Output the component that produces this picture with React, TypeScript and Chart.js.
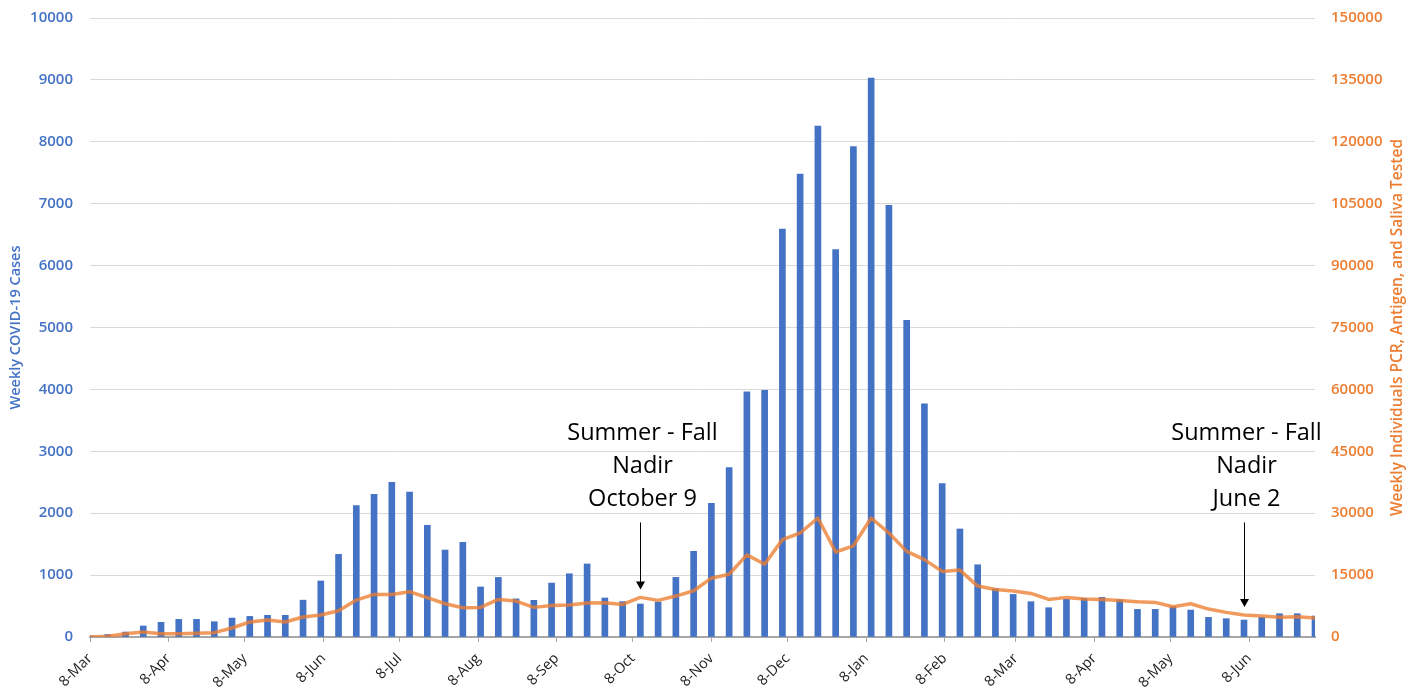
import React, { useEffect, useRef } from "react";
import { Chart, registerables } from "chart.js";

Chart.register(...registerables);

// First week of the series (week 0) and weekly counts
const firstWeek = "2020-03-08";

const weeklyCases = [
  20, 40, 80, 178, 237, 285, 285, 247, 306, 333,
  350, 350, 595, 905, 1335, 2125, 2305, 2500, 2340, 1805,
  1405, 1530, 808, 963, 616, 592, 871, 1022, 1180, 630,
  571, 533, 565, 963, 1384, 2160, 2738, 3960, 3985, 6592,
  7480, 8252, 6257, 7924, 9030, 6973, 5114, 3765, 2480, 1745,
  1167, 780, 688, 570, 473, 608, 624, 640, 602, 446,
  446, 489, 435, 317, 296, 274, 317, 376, 376, 339,
];

const weeklyTested = [
  0, 160, 810, 1210, 810, 810, 890, 1050, 2180, 3630,
  4110, 3630, 4840, 5320, 6370, 8950, 10320, 10320, 10970, 9520,
  8060, 7100, 7170, 9110, 8710, 7180, 7660, 7740, 8230, 8310,
  7900, 9600, 8870, 9920, 11200, 14250, 15200, 19900, 17630, 23600,
  25200, 28830, 20600, 22100, 28830, 25200, 20750, 18750, 15900, 16210,
  12340, 11530, 11130, 10560, 9110, 9600, 9190, 9110, 8870, 8550,
  8390, 7340, 8060, 6770, 5970, 5320, 5080, 4760, 4920, 4600,
];

const tickDates = [
  "2020-03-08", "2020-04-08", "2020-05-08", "2020-06-08", "2020-07-08", "2020-08-08",
  "2020-09-08", "2020-10-08", "2020-11-08", "2020-12-08", "2021-01-08", "2021-02-08",
  "2021-03-08", "2021-04-08", "2021-05-08", "2021-06-08",
];
const tickLabels = [
  "8-Mar", "8-Apr", "8-May", "8-Jun", "8-Jul", "8-Aug", "8-Sep", "8-Oct",
  "8-Nov", "8-Dec", "8-Jan", "8-Feb", "8-Mar", "8-Apr", "8-May", "8-Jun",
];

const annotationWeeks = [31, 65];
const annotationTexts = [
  ["Summer - Fall", "Nadir", "October 9"],
  ["Summer - Fall", "Nadir", "June 2"],
];
const annotationArrowTop = 1850; // left-axis value where arrows begin

const leftTitle = "Weekly COVID-19 Cases";
const rightTitle = "Weekly Individuals PCR, Antigen, and Saliva Tested";

const BLUE = "#4472C4";
const ORANGE = "#ED7D31";
const FONT = "'Open Sans', 'Liberation Sans', sans-serif";

const DAY = 86400000;
const dayOf = (iso: string) => {
  const [y, m, d] = iso.split("-").map(Number);
  const [y0, m0, d0] = firstWeek.split("-").map(Number);
  return Math.round((Date.UTC(y, m - 1, d) - Date.UTC(y0, m0 - 1, d0)) / DAY);
};
const tickDays = tickDates.map(dayOf);
const weekDays = weeklyCases.map((_, i) => i * 7);

const overlayPlugin = {
  id: "overlay",
  afterDraw(chart: any) {
    const { ctx, chartArea, scales } = chart;
    const xs = scales.x;
    const ys = scales.y;
    const y1 = scales.y1;
    const midY = (chartArea.top + chartArea.bottom) / 2;
    ctx.save();
    // axis titles
    ctx.textAlign = "center";
    ctx.textBaseline = "middle";
    ctx.font = `600 14.5px ${FONT}`;
    ctx.fillStyle = BLUE;
    ctx.translate(16, midY);
    ctx.rotate(-Math.PI / 2);
    ctx.fillText(leftTitle, 0, 0);
    ctx.setTransform(1, 0, 0, 1, 0, 0);
    ctx.font = `600 15.5px ${FONT}`;
    ctx.fillStyle = ORANGE;
    ctx.translate(1398, midY);
    ctx.rotate(-Math.PI / 2);
    ctx.fillText(rightTitle, 0, 0);
    ctx.setTransform(1, 0, 0, 1, 0, 0);

    // annotations
    annotationWeeks.forEach((w, i) => {
      const x = Math.round(xs.getPixelForValue(weekDays[w])) + 0.5;
      const lineY = y1.getPixelForValue(weeklyTested[w]);
      const tip = lineY - 8;
      const top = ys.getPixelForValue(annotationArrowTop);
      ctx.strokeStyle = "#000";
      ctx.fillStyle = "#000";
      ctx.lineWidth = 1;
      ctx.beginPath();
      ctx.moveTo(x, top);
      ctx.lineTo(x, tip - 7);
      ctx.stroke();
      ctx.beginPath();
      ctx.moveTo(x - 4.5, tip - 8);
      ctx.lineTo(x + 4.5, tip - 8);
      ctx.lineTo(x, tip);
      ctx.closePath();
      ctx.fill();
      const lines = annotationTexts[i];
      ctx.font = `23.5px ${FONT}`;
      ctx.textAlign = "center";
      ctx.textBaseline = "middle";
      lines.forEach((t, j) => {
        const cy = top - 23 - 33 * (lines.length - 1 - j);
        ctx.fillText(t, x + 2, cy);
      });
    });
    ctx.restore();
  },
};

export default function App() {
  const ref = useRef<HTMLCanvasElement | null>(null);
  useEffect(() => {
    document.body.style.margin = "0";
    document.body.style.overflow = "hidden";
    const canvas = ref.current!;
    const chart = new Chart(canvas, {
      type: "bar",
      data: {
        datasets: [
          {
            type: "line",
            label: "Tested",
            data: weekDays.map((d, i) => ({ x: d, y: weeklyTested[i] })),
            yAxisID: "y1",
            borderColor: "rgba(237,125,49,0.78)",
            borderWidth: 3.5,
            pointRadius: 0,
            tension: 0,
            borderJoinStyle: "round",
            order: 0,
          } as any,
          {
            type: "bar",
            label: "Cases",
            data: weekDays.map((d, i) => ({ x: d, y: weeklyCases[i] })),
            yAxisID: "y",
            backgroundColor: BLUE,
            barThickness: 6,
            order: 1,
          } as any,
        ],
      },
      options: {
        responsive: false,
        animation: false,
        layout: { padding: { top: 18, left: 0, right: 0, bottom: 0 } },
        plugins: { legend: { display: false }, tooltip: { enabled: false } },
        scales: {
          x: {
            type: "linear",
            min: 0,
            max: weekDays[weekDays.length - 1],
            offset: false,
            grid: {
              display: true,
              offset: false,
              drawOnChartArea: false,
              drawTicks: true,
              tickLength: 5,
              color: "#A6A6A6",
            },
            border: { display: true, color: "#A6A6A6", width: 2 },
            afterBuildTicks: (s: any) => {
              s.ticks = tickDays.map((v) => ({ value: v }));
            },
            afterFit: (s: any) => {
              s.height = 53;
            },
            ticks: {
              autoSkip: false,
              maxRotation: 45,
              minRotation: 45,
              padding: 8,
              color: "#1f1f1f",
              font: { family: FONT, size: 14.5 },
              callback: (v: any) => {
                const idx = tickDays.indexOf(Number(v));
                return idx >= 0 ? tickLabels[idx] : "";
              },
            },
          },
          y: {
            position: "left",
            min: 0,
            max: 10000,
            grid: { color: "#D9D9D9", drawTicks: false, lineWidth: 1 },
            border: { display: false },
            afterFit: (s: any) => {
              s.width = 90;
              s.paddingTop = 0;
              s.paddingBottom = 0;
            },
            ticks: {
              stepSize: 1000,
              padding: 17,
              color: BLUE,
              font: { family: FONT, size: 15, weight: "600" },
              callback: (v: any) => String(v),
            },
          },
          y1: {
            position: "right",
            min: 0,
            max: 150000,
            grid: { drawOnChartArea: false, drawTicks: false },
            border: { display: false },
            afterFit: (s: any) => {
              s.width = 103;
              s.paddingTop = 0;
              s.paddingBottom = 0;
            },
            ticks: {
              stepSize: 15000,
              padding: 16,
              color: ORANGE,
              font: { family: FONT, size: 15, weight: "600" },
              callback: (v: any) => String(v),
            },
          },
        },
      } as any,
      plugins: [overlayPlugin],
    });
    return () => chart.destroy();
  }, []);
  return (
    <canvas
      ref={ref}
      width={1418}
      height={690}
      style={{ display: "block", width: 1418, height: 690 }}
    />
  );
}
